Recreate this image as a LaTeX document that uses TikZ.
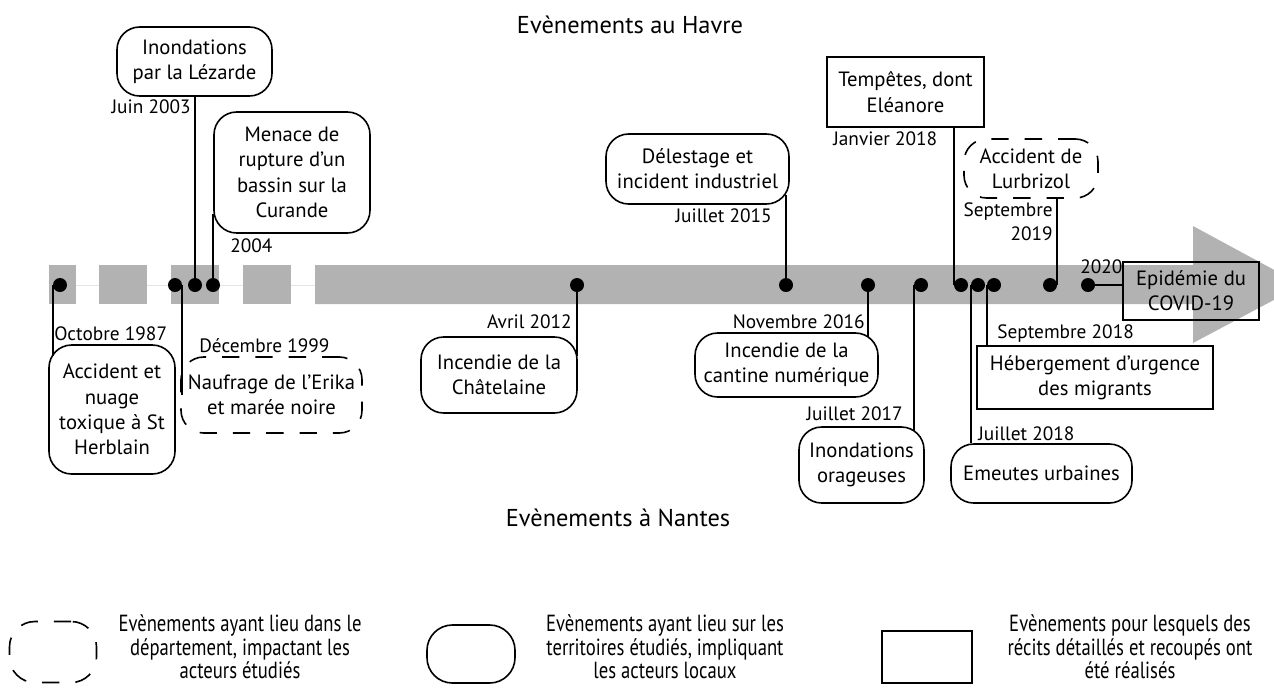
\documentclass[tikz,border=0pt]{standalone}
\usepackage{fontspec}
\setmainfont{PT Sans}
\newfontfamily\legendfont[FakeStretch=0.8]{PT Sans}
\usetikzlibrary{calc}

\definecolor{barGray}{RGB}{178,178,178}

\tikzset{
  evt/.style={draw, line width=1.2pt, rounded corners=17pt, align=center, inner sep=0pt,
    font=\fontsize{15.5}{19}\selectfont},
  evtdash/.style={evt, dash pattern=on 13pt off 12pt},
  evtrect/.style={evt, rounded corners=0pt},
  date/.style={inner sep=0pt, font=\fontsize{14.5}{18}\selectfont},
  title/.style={inner sep=0pt, font=\fontsize{18.3}{22}\selectfont},
  legtext/.style={inner sep=0pt, align=center, font=\legendfont\fontsize{17.5}{17.5}\selectfont},
  dot/.style={circle, fill=black, inner sep=0pt, minimum size=10.5pt},
  link/.style={line width=1.2pt},
  bar/.style={fill=barGray}
}

\begin{document}
\begin{tikzpicture}[x=0.75pt,y=-0.75pt]
  \useasboundingbox (0,0) rectangle (1274,687);
  \clip (0,0) rectangle (1274,687);

  % timeline
  \draw[black!10, line width=0.5pt] (49,285) -- (315,285);
  \foreach \a/\b in {49/76, 99/147, 171/219, 243/291}
    \fill[bar] (\a,265) rectangle (\b,304);
  \fill[bar] (315,265) -- (1193,265) -- (1193,226) -- (1302,285) -- (1193,343) -- (1193,304) -- (315,304) -- cycle;

  % titles
  \node[title] (havre) at (630,25) {Evènements au Havre};
  \node[title] (nantes) at (618,518) {Evènements à Nantes};

  % dots
  \node[dot] (d1987) at (60,285) {};
  \node[dot] (d1999) at (175,285) {};
  \node[dot] (d2003) at (195,285) {};
  \node[dot] (d2004) at (213,285) {};
  \node[dot] (d2012) at (577,285) {};
  \node[dot] (d2015) at (786,285) {};
  \node[dot] (d2016) at (868,285) {};
  \node[dot] (d2017) at (921,285) {};
  \node[dot] (dJan18) at (961,285) {};
  \node[dot] (dJul18) at (978,285) {};
  \node[dot] (dSep18) at (994,285) {};
  \node[dot] (d2019) at (1050,285) {};
  \node[dot] (d2020) at (1088,285) {};

  % events Le Havre
  \node[evt, minimum width=116.25pt, minimum height=51.75pt] (lezarde) at (194.5,61.5) {Inondations\\par la Lézarde};
  \node[evt, minimum width=117pt, minimum height=90.75pt] (curande) at (292,172.5) {Menace de\\rupture d’un\\bassin sur la\\Curande};
  \node[evt, minimum width=137.25pt, minimum height=52.5pt] (delestage) at (697.5,169) {Délestage et\\incident industriel};
  \node[evtrect, minimum width=117.75pt, minimum height=52.5pt] (tempetes) at (905.5,92) {Tempêtes, dont\\Eléanore};
  \node[evtdash, minimum width=100.5pt, minimum height=44.25pt] (lurbrizol) at (1031,168.5) {Accident de\\Lurbrizol};
  \node[evtrect, minimum width=102pt, minimum height=43.5pt] (covid) at (1191,291) {Epidémie du\\COVID-19};

  % events Nantes
  \node[evt, minimum width=94.5pt, minimum height=96.75pt] (accident) at (112,409.5) {Accident et\\nuage\\toxique à St\\Herblain};
  \node[evtdash, minimum width=135.75pt, minimum height=57pt] (erika) at (271.5,395) {Naufrage de l’Erika\\et marée noire};
  \node[evt, minimum width=117pt, minimum height=57pt] (chatelaine) at (499,375) {Incendie de la\\Châtelaine};
  \node[evt, minimum width=137.25pt, minimum height=48pt] (cantine) at (786.5,365) {Incendie de la\\cantine numérique};
  \node[evt, minimum width=93.75pt, minimum height=57pt] (orageuses) at (861.5,465) {Inondations\\orageuses};
  \node[evtrect, minimum width=177pt, minimum height=47.25pt] (hebergement) at (1095,377.5) {Hébergement d’urgence\\des migrants};
  \node[evt, minimum width=135.75pt, minimum height=44.25pt] (emeutes) at (1041.5,473.5) {Emeutes urbaines};

  % dates
  \node[date, anchor=west] (l1987) at (54,334) {Octobre 1987};
  \node[date, anchor=west] (l1999) at (199,346) {Décembre 1999};
  \node[date, anchor=east] (l2003) at (191,107) {Juin 2003};
  \node[date, anchor=west] (l2004) at (230,246) {2004};
  \node[date, anchor=east] (l2012) at (572,322) {Avril 2012};
  \node[date, anchor=east] (l2015) at (772,216) {Juillet 2015};
  \node[date, anchor=east] (l2016) at (865,322) {Novembre 2016};
  \node[date, anchor=east] (l2017) at (903,414) {Juillet 2017};
  \node[date, anchor=west] (lJan18) at (833,139) {Janvier 2018};
  \node[date, anchor=west] (lJul18) at (978,434) {Juillet 2018};
  \node[date, anchor=west] (lSep18) at (997,334) {Septembre 2018};
  \node[date, anchor=east, align=right] (l2019) at (1053,222) {Septembre\\2019};
  \node[date, anchor=west] (l2020) at (1080,267) {2020};

  % links
  \draw[link] (d1987.west) -- ($(d1987.west |- accident.north)+(0,12)$);
  \draw[link] (d1999.east) -- (d1999.east |- erika.west);
  \draw[link] (d2003) -- (d2003 |- lezarde.south);
  \draw[link] (d2004) -- ($(d2004 |- curande.south)+(0,-20)$);
  \draw[link] (d2012) -- ($(d2012 |- chatelaine.north)+(0,20)$);
  \draw[link] (d2015) -- ($(d2015 |- delestage.south)+(0,-10)$);
  \draw[link] (d2016) -- ($(d2016 |- cantine.north)+(0,5)$);
  \draw[link] (d2017.west) -- ($(d2017.west |- orageuses.north)+(0,5)$);
  \draw[link] (dJan18.west) -- (dJan18.west |- tempetes.south);
  \draw[link] (dJul18.west) -- (dJul18.west |- emeutes.north);
  \draw[link] (dSep18.west) -- (dSep18.west |- hebergement.north);
  \draw[link] (d2019.east) -- (d2019.east |- lurbrizol.south);
  \draw[link] (d2020) -- (d2020 -| covid.west);

  % legend
  \node[evtdash, rounded corners=19pt, minimum width=65.25pt, minimum height=45.75pt] (legdash) at (53,652) {};
  \node[legtext] (legdashtxt) at (240,647) {Evènements ayant lieu dans le\\département, impactant les\\acteurs étudiés};
  \node[evt, rounded corners=19pt, minimum width=66pt, minimum height=43.5pt] (leground) at (471,654) {};
  \node[legtext] (legroundtxt) at (665,647) {Evènements ayant lieu sur les\\territoires étudiés, impliquant\\les acteurs locaux};
  \node[evtrect, minimum width=67.5pt, minimum height=39pt] (legrect) at (927,657) {};
  \node[legtext] (legrecttxt) at (1130,647) {Evènements pour lesquels des\\récits détaillés et recoupés ont\\été réalisés};
\end{tikzpicture}
\end{document}
